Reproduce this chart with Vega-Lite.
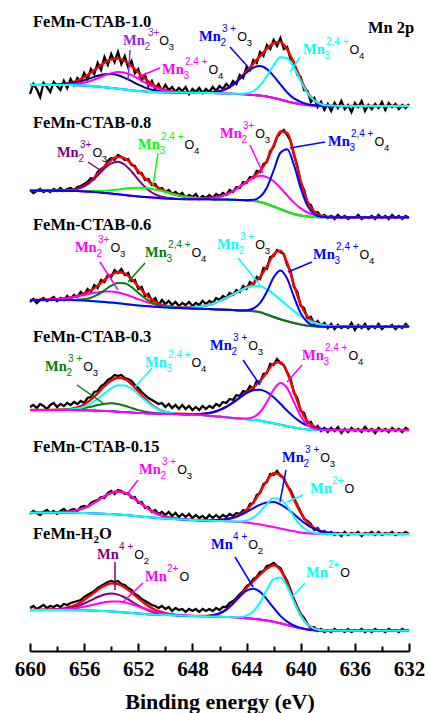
{
"$schema":"https://vega.github.io/schema/vega-lite/v6.json",
"width":379,"height":651,
"autosize":{"type":"none"},
"padding":{"left":30,"top":0,"right":20,"bottom":62},
"background":"white",
"config":{"view":{"stroke":null},"axis":{"grid":false,"domainColor":"black","tickColor":"black","labelColor":"black","titleColor":"black"}},
"resolve":{"axis":{"x":"independent"}},
"datasets":{
"fit":[
{"x":660,"f1":915,"a1":915,"b1":915,"c1":915,"d1":915,"f2":809.3,"a2":809.3,"b2":809.3,"c2":809.3,"d2":809.3,"f3":700,"a3":700,"b3":700,"c3":700,"d3":700,"f4":590,"a4":590,"b4":590,"c4":590,"d4":590,"f5":487.3,"a5":487.3,"b5":487.3,"c5":487.3,"f6":390,"a6":390,"b6":390,"c6":390,"d6":390},
{"x":658,"f1":915.4,"a1":915.3,"b1":915.1,"c1":915,"d1":915,"f2":809.4,"a2":809.4,"b2":809.3,"c2":809.3,"d2":809.3,"f3":700.8,"a3":700.8,"b3":700,"c3":700,"d3":700,"f4":590.2,"a4":590.1,"b4":590.1,"c4":590,"d4":590,"f5":487.5,"a5":487.5,"b5":487.3,"c5":487.3,"f6":390.7,"a6":390.4,"b6":390.3,"c6":390,"d6":390},
{"x":657,"f1":917.4,"a1":916.7,"b1":915.7,"c1":915,"d1":915,"f2":810.1,"a2":810,"b2":809.2,"c2":809.1,"d2":809.1,"f3":702.5,"a3":702.4,"b3":700,"c3":699.9,"d3":699.9,"f4":591.1,"a4":590.4,"b4":590.6,"c4":589.9,"d4":589.9,"f5":488.5,"a5":488.5,"b5":487.2,"c5":487.2,"f6":393.3,"a6":392,"b6":391.2,"c6":389.9,"d6":389.9},
{"x":656.5,"f1":919.4,"a1":917.9,"b1":916.3,"c1":914.8,"d1":914.8,"f2":811.4,"a2":811.2,"b2":809.1,"c2":808.9,"d2":808.9,"f3":704.1,"a3":703.6,"b3":700.2,"c3":699.7,"d3":699.7,"f4":592.6,"a4":590.9,"b4":591.5,"c4":589.8,"d4":589.8,"f5":489.8,"a5":489.8,"b5":487.1,"c5":487.1,"f6":396,"a6":393.8,"b6":392,"c6":389.8,"d6":389.8},
{"x":656,"f1":922.8,"a1":919.8,"b1":917.5,"c1":914.5,"d1":914.5,"f2":814.1,"a2":813.7,"b2":809,"c2":808.6,"d2":808.6,"f3":706.5,"a3":705.1,"b3":700.9,"c3":699.5,"d3":699.5,"f4":595.5,"a4":591.9,"b4":593.3,"c4":589.7,"d4":589.7,"f5":492.1,"a5":492.1,"b5":487,"c5":487,"f6":400.1,"a6":396.5,"b6":393.3,"c6":389.7,"d6":389.7},
{"x":655.5,"f1":927.2,"a1":921.9,"b1":919.3,"c1":914,"d1":914,"f2":819,"a2":818.2,"b2":809,"c2":808.2,"d2":808.2,"f3":709.7,"a3":706.4,"b3":702.3,"c3":699,"d3":699,"f4":600.3,"a4":593.3,"b4":596.5,"c4":589.5,"d4":589.5,"f5":495.3,"a5":495.3,"b5":486.7,"c5":486.7,"f6":405,"a6":399.7,"b6":394.8,"c6":389.5,"d6":389.5},
{"x":655,"f1":932.5,"a1":924.2,"b1":921.8,"c1":913.5,"d1":913.5,"f2":825.9,"a2":824.5,"b2":809.1,"c2":807.7,"d2":807.7,"f3":714.4,"a3":707.6,"b3":705.3,"c3":698.5,"d3":698.5,"f4":606.7,"a4":594.9,"b4":601.1,"c4":589.3,"d4":589.3,"f5":499.5,"a5":499.5,"b5":486.5,"c5":486.5,"f6":410.1,"a6":403,"b6":396.3,"c6":389.2,"d6":389.2},
{"x":654.5,"f1":937.4,"a1":925.7,"b1":924.5,"c1":912.8,"d1":912.8,"f2":833.6,"a2":831.4,"b2":809.3,"c2":807.1,"d2":807.1,"f3":720.1,"a3":708.4,"b3":709.7,"c3":698,"d3":698,"f4":613.8,"a4":596.2,"b4":606.6,"c4":589,"d4":589,"f5":503.8,"a5":503.8,"b5":486.2,"c5":486.2,"f6":414.3,"a6":405.5,"b6":397.7,"c6":388.9,"d6":388.9},
{"x":654,"f1":940.7,"a1":926,"b1":926.7,"c1":912,"d1":912,"f2":840.1,"a2":836.7,"b2":809.8,"c2":806.4,"d2":806.4,"f3":725.3,"a3":708.5,"b3":714.3,"c3":697.5,"d3":697.5,"f4":619.6,"a4":596.7,"b4":611.6,"c4":588.7,"d4":588.7,"f5":507.1,"a5":507.1,"b5":485.9,"c5":485.9,"f6":416.6,"a6":406.5,"b6":398.6,"c6":388.5,"d6":388.5},
{"x":653.5,"f1":941.5,"a1":924.8,"b1":928,"c1":911.3,"d1":911.3,"f2":843.2,"a2":838.3,"b2":810.6,"c2":805.7,"d2":805.7,"f3":727.8,"a3":707.5,"b3":717.1,"c3":696.8,"d3":696.8,"f4":622.3,"a4":595.9,"b4":614.7,"c4":588.3,"d4":588.3,"f5":508.5,"a5":508.5,"b5":485.5,"c5":485.5,"f6":415.9,"a6":405.4,"b6":398.5,"c6":388,"d6":388},
{"x":653,"f1":939,"a1":922.2,"b1":927.3,"c1":910.5,"d1":910.5,"f2":841.7,"a2":835.3,"b2":811.4,"c2":805,"d2":805,"f3":726.4,"a3":705.7,"b3":716.7,"c3":696,"d3":696,"f4":620.9,"a4":594.2,"b4":614.6,"c4":587.9,"d4":587.9,"f5":507.2,"a5":507.2,"b5":485,"c5":485,"f6":412.6,"a6":402.5,"b6":397.6,"c6":387.5,"d6":387.5},
{"x":652.5,"f1":934,"a1":918.8,"b1":924.9,"c1":909.7,"d1":909.7,"f2":836.2,"a2":828.5,"b2":811.9,"c2":804.2,"d2":804.2,"f3":721.1,"a3":703.4,"b3":713,"c3":695.3,"d3":695.3,"f4":615.8,"a4":592,"b4":611.3,"c4":587.5,"d4":587.5,"f5":503.6,"a5":503.6,"b5":484.4,"c5":484.4,"f6":407.4,"a6":398.6,"b6":395.8,"c6":387,"d6":387},
{"x":652,"f1":927.6,"a1":915.3,"b1":921.3,"c1":909,"d1":909,"f2":829,"a2":820.3,"b2":812.2,"c2":803.5,"d2":803.5,"f3":713.6,"a3":700.9,"b3":707.3,"c3":694.6,"d3":694.6,"f4":608.6,"a4":589.9,"b4":605.8,"c4":587.1,"d4":587.1,"f5":498.6,"a5":498.6,"b5":483.7,"c5":483.7,"f6":401.7,"a6":394.6,"b6":393.6,"c6":386.5,"d6":386.5},
{"x":651.5,"f1":921.3,"a1":912.4,"b1":917.4,"c1":908.5,"d1":908.5,"f2":821.9,"a2":812.9,"b2":811.9,"c2":802.9,"d2":802.9,"f3":706.2,"a3":698.5,"b3":701.7,"c3":694,"d3":694,"f4":601.2,"a4":588.3,"b4":599.7,"c4":586.8,"d4":586.8,"f5":493.4,"a5":493.4,"b5":483.1,"c5":483.1,"f6":396.3,"a6":391,"b6":391.3,"c6":386,"d6":386},
{"x":651,"f1":916,"a1":910.2,"b1":913.8,"c1":908,"d1":908,"f2":816.2,"a2":807.5,"b2":811.1,"c2":802.4,"d2":802.4,"f3":700.4,"a3":696.5,"b3":697.4,"c3":693.5,"d3":693.5,"f4":595.1,"a4":587.2,"b4":594.4,"c4":586.5,"d4":586.5,"f5":488.9,"a5":488.9,"b5":482.5,"c5":482.5,"f6":391.9,"a6":388.3,"b6":389.1,"c6":385.5,"d6":385.5},
{"x":650.5,"f1":912.3,"a1":908.9,"b1":911.2,"c1":907.8,"d1":907.8,"f2":812,"a2":804.3,"b2":809.7,"c2":802,"d2":802,"f3":696.5,"a3":694.8,"b3":694.7,"c3":693,"d3":693,"f4":590.8,"a4":586.6,"b4":590.5,"c4":586.3,"d4":586.3,"f5":485.5,"a5":485.5,"b5":482,"c5":482,"f6":388.8,"a6":386.6,"b6":387.4,"c6":385.2,"d6":385.2},
{"x":650,"f1":909.8,"a1":908,"b1":909.3,"c1":907.5,"d1":907.5,"f2":808.9,"a2":802.5,"b2":808,"c2":801.6,"d2":801.6,"f3":694.4,"a3":693.7,"b3":693.2,"c3":692.7,"d3":692.6,"f4":588.2,"a4":586.2,"b4":588.1,"c4":586.1,"d4":586.1,"f5":483.3,"a5":483.3,"b5":481.5,"c5":481.5,"f6":386.9,"a6":385.6,"b6":386.3,"c6":385,"d6":385},
{"x":649,"f1":907.8,"a1":907.5,"b1":907.7,"c1":907.4,"d1":907.4,"f2":804.5,"a2":801.1,"b2":804.4,"c2":801,"d2":801,"f3":692.6,"a3":692.3,"b3":692,"c3":692.3,"d3":692,"f4":586.2,"a4":585.8,"b4":586.1,"c4":585.9,"d4":585.8,"f5":481,"a5":481,"b5":480.7,"c5":480.7,"f6":384.9,"a6":384.6,"b6":384.8,"c6":384.5,"d6":384.5},
{"x":648,"f1":907.2,"a1":907.2,"b1":907.2,"c1":907.2,"d1":907.2,"f2":802.3,"a2":800.8,"b2":802.2,"c2":800.9,"d2":800.8,"f3":692.7,"a3":691.6,"b3":691.5,"c3":692.6,"d3":691.5,"f4":585.7,"a4":585.3,"b4":585.3,"c4":585.7,"d4":585.3,"f5":480,"a5":480,"b5":480,"c5":480,"f6":384.1,"a6":384,"b6":384.1,"c6":384,"d6":384},
{"x":647,"f1":907.3,"a1":907,"b1":907,"c1":907.3,"d1":907,"f2":801.7,"a2":800.7,"b2":801.1,"c2":801.3,"d2":800.7,"f3":694.5,"a3":691,"b3":691,"c3":694.5,"d3":691,"f4":586.6,"a4":584.6,"b4":584.6,"c4":586.6,"d4":584.6,"f5":479.7,"a5":479.5,"b5":479.7,"c5":479.5,"f6":384.1,"a6":383.7,"b6":383.7,"c6":384.1,"d6":383.7},
{"x":646.5,"f1":907.7,"a1":906.9,"b1":906.9,"c1":907.7,"d1":906.9,"f2":802.2,"a2":800.6,"b2":800.8,"c2":802,"d2":800.6,"f3":696.4,"a3":690.8,"b3":690.8,"c3":696.4,"d3":690.8,"f4":587.7,"a4":584,"b4":584,"c4":587.7,"d4":584,"f5":479.7,"a5":479.3,"b5":479.7,"c5":479.3,"f6":384.8,"a6":383.5,"b6":383.5,"c6":384.8,"d6":383.5},
{"x":646,"f1":908.8,"a1":906.7,"b1":906.7,"c1":908.8,"d1":906.7,"f2":803.4,"a2":800.5,"b2":800.6,"c2":803.3,"d2":800.5,"f3":699,"a3":690.5,"b3":690.5,"c3":699,"d3":690.5,"f4":590,"a4":583.5,"b4":583.5,"c4":590,"d4":583.5,"f5":480,"a5":479,"b5":480,"c5":479,"f6":386.7,"a6":383.3,"b6":383.3,"c6":386.7,"d6":383.3},
{"x":645.5,"f1":911.1,"a1":906.5,"b1":906.5,"c1":911.1,"d1":906.5,"f2":805.6,"a2":800.4,"b2":800.4,"c2":805.6,"d2":800.4,"f3":702.1,"a3":690.2,"b3":690.2,"c3":702.1,"d3":690.2,"f4":593.2,"a4":582.7,"b4":582.7,"c4":593.2,"d4":582.7,"f5":480.7,"a5":478.7,"b5":480.7,"c5":478.7,"f6":390.4,"a6":383,"b6":383,"c6":390.4,"d6":383},
{"x":645,"f1":915.3,"a1":906.3,"b1":906.3,"c1":915.3,"d1":906.3,"f2":809,"a2":800.2,"b2":800.2,"c2":809,"d2":800.2,"f3":705.7,"a3":689.9,"b3":689.9,"c3":705.7,"d3":689.9,"f4":597.5,"a4":582,"b4":582,"c4":597.5,"d4":582,"f5":482.3,"a5":478.4,"b5":482.2,"c5":478.5,"f6":396.6,"a6":382.7,"b6":382.7,"c6":396.5,"d6":382.8},
{"x":644.5,"f1":921.5,"a1":906,"b1":906,"c1":921.2,"d1":906.3,"f2":813.3,"a2":800,"b2":800,"c2":813.3,"d2":800,"f3":709.2,"a3":689.6,"b3":689.6,"c3":709.2,"d3":689.6,"f4":602.5,"a4":581.4,"b4":581.4,"c4":602.4,"d4":581.5,"f5":485.3,"a5":478,"b5":484.7,"c5":478.6,"f6":404.2,"a6":382.3,"b6":382.3,"c6":403.5,"d6":383},
{"x":644,"f1":928.7,"a1":905.5,"b1":905.5,"c1":927.4,"d1":906.8,"f2":818.2,"a2":799.6,"b2":799.6,"c2":818,"d2":799.8,"f3":712.7,"a3":689.3,"b3":689.3,"c3":712.2,"d3":689.8,"f4":607.5,"a4":580.8,"b4":580.8,"c4":606.9,"d4":581.4,"f5":490.1,"a5":477.4,"b5":488,"c5":479.5,"f6":412,"a6":381.8,"b6":381.8,"c6":409.4,"d6":384.4},
{"x":643.5,"f1":936.4,"a1":905,"b1":905,"c1":932.4,"d1":909,"f2":823.3,"a2":799,"b2":799,"c2":822.1,"d2":800.2,"f3":716.7,"a3":688.8,"b3":688.8,"c3":714,"d3":691.5,"f4":612.6,"a4":580.1,"b4":580.1,"c4":609.8,"d4":582.9,"f5":497.7,"a5":476.6,"b5":491.8,"c5":482.5,"f6":418.7,"a6":381.2,"b6":381.2,"c6":411.2,"d6":388.7},
{"x":643,"f1":944.1,"a1":904.5,"b1":904.5,"c1":934,"d1":914.6,"f2":829.4,"a2":798,"b2":798,"c2":824.2,"d2":803.2,"f3":723.1,"a3":687.8,"b3":687.8,"c3":713.8,"d3":697.1,"f4":619,"a4":579.3,"b4":579.3,"c4":610.3,"d4":588,"f5":508.2,"a5":475.5,"b5":495.3,"c5":488.4,"f6":425.4,"a6":380.5,"b6":380.5,"c6":408.1,"d6":397.8},
{"x":642.5,"f1":951.4,"a1":903.5,"b1":903.5,"c1":930.9,"d1":924,"f2":839.2,"a2":796,"b2":796,"c2":822.9,"d2":812.3,"f3":733.5,"a3":685.5,"b3":685.5,"c3":710.7,"d3":708.3,"f4":627.7,"a4":578.1,"b4":578.1,"c4":607.8,"d4":598,"f5":519.4,"a5":474.3,"b5":497.6,"c5":496.1,"f6":431.4,"a6":379.5,"b6":379.5,"c6":400.7,"d6":410.2},
{"x":642,"f1":956.8,"a1":902,"b1":902,"c1":923.9,"d1":934.9,"f2":854.7,"a2":793.5,"b2":793.5,"c2":818.7,"d2":829.5,"f3":745.6,"a3":683,"b3":683,"c3":705.9,"d3":722.7,"f4":636.4,"a4":576.7,"b4":576.7,"c4":602.8,"d4":610.3,"f5":526.7,"a5":473,"b5":498,"c5":501.7,"f6":434.6,"a6":378.3,"b6":378.3,"c6":392.1,"d6":420.8},
{"x":641.5,"f1":957.9,"a1":900.5,"b1":900.5,"c1":915.7,"d1":942.7,"f2":868.5,"a2":790.8,"b2":790.8,"c2":812.1,"d2":847.2,"f3":749.2,"a3":680.7,"b3":680.7,"c3":700.3,"d3":729.6,"f4":637.9,"a4":575.2,"b4":575.2,"c4":596.2,"d4":616.9,"f5":525.1,"a5":471.5,"b5":495.7,"c5":500.9,"f6":429.9,"a6":376.7,"b6":376.7,"c6":384.1,"d6":422.5},
{"x":641,"f1":950.7,"a1":898.5,"b1":898.5,"c1":907.5,"d1":941.7,"f2":867.2,"a2":788.2,"b2":788.2,"c2":804.6,"d2":850.8,"f3":737.2,"a3":678.8,"b3":678.8,"c3":694.6,"d3":721.4,"f4":627.3,"a4":573.7,"b4":573.7,"c4":589.2,"d4":611.8,"f5":514.9,"a5":470,"b5":491.4,"c5":493.5,"f6":416.8,"a6":375,"b6":375,"c6":378.4,"d6":413.4},
{"x":640.5,"f1":936.8,"a1":897,"b1":897,"c1":901.6,"d1":932.2,"f2":846.5,"a2":786,"b2":786,"c2":797.4,"d2":835.1,"f3":715.2,"a3":677,"b3":677,"c3":688.9,"d3":703.3,"f4":608.4,"a4":572.4,"b4":572.4,"c4":582.9,"d4":597.9,"f5":500.4,"a5":468.7,"b5":485.8,"c5":483.3,"f6":399.6,"a6":373.2,"b6":373.2,"c6":374.5,"d6":398.3},
{"x":640,"f1":921.1,"a1":896,"b1":896,"c1":898.1,"d1":919,"f2":818.9,"a2":784.4,"b2":784.4,"c2":791.6,"d2":811.7,"f3":695.4,"a3":675.5,"b3":675.5,"c3":684,"d3":686.9,"f4":590.3,"a4":571.3,"b4":571.3,"c4":577.8,"d4":583.8,"f5":487.1,"a5":467.6,"b5":480,"c5":474.7,"f6":384.9,"a6":371.7,"b6":371.7,"c6":372.1,"d6":384.5},
{"x":639.5,"f1":907.7,"a1":895,"b1":895,"c1":895.8,"d1":906.9,"f2":798.2,"a2":783.4,"b2":783.4,"c2":787.5,"d2":794.1,"f3":683.4,"a3":674.3,"b3":674.3,"c3":679.9,"d3":677.8,"f4":578.8,"a4":570.6,"b4":570.6,"c4":574.3,"d4":575.1,"f5":477.6,"a5":466.8,"b5":474.9,"c5":469.5,"f6":375.7,"a6":370.5,"b6":370.5,"c6":370.6,"d6":375.6},
{"x":639,"f1":899.7,"a1":894.5,"b1":894.5,"c1":894.8,"d1":899.4,"f2":788.1,"a2":782.9,"b2":782.9,"c2":785.1,"d2":785.9,"f3":678,"a3":673.7,"b3":673.7,"c3":677.2,"d3":674.5,"f4":573.4,"a4":570.2,"b4":570.2,"c4":572.2,"d4":571.4,"f5":472,"a5":466.3,"b5":471.2,"c5":467.1,"f6":371.6,"a6":369.8,"b6":369.8,"c6":369.8,"d6":371.4},
{"x":638.5,"f1":895.8,"a1":894.2,"b1":894.2,"c1":894.2,"d1":895.8,"f2":784.3,"a2":782.7,"b2":782.7,"c2":783.7,"d2":783.3,"f3":675.6,"a3":673.4,"b3":673.4,"c3":675.5,"d3":673.5,"f4":571.2,"a4":570,"b4":570,"c4":570.9,"d4":570.3,"f5":468.9,"a5":466.1,"b5":468.7,"c5":466.3,"f6":369.8,"a6":369.4,"b6":369.4,"c6":369.4,"d6":369.8},
{"x":638,"f1":894.4,"a1":894,"b1":894,"c1":894,"d1":894.4,"f2":783.2,"a2":782.7,"b2":782.7,"c2":783.1,"d2":782.8,"f3":674.4,"a3":673.3,"b3":673.3,"c3":674.4,"d3":673.3,"f4":570.4,"a4":570,"b4":570,"c4":570.4,"d4":570,"f5":467.3,"a5":466,"b5":467.3,"c5":466,"f6":369.4,"a6":369.3,"b6":369.3,"c6":369.3,"d6":369.4},
{"x":637,"f1":894,"a1":894,"b1":894,"c1":894,"d1":894,"f2":782.8,"a2":782.7,"b2":782.7,"c2":782.8,"d2":782.7,"f3":673.6,"a3":673.3,"b3":673.3,"c3":673.6,"d3":673.3,"f4":570.1,"a4":570,"b4":570,"c4":570.1,"d4":570,"f5":466.2,"a5":466,"b5":466.2,"c5":466,"f6":369.3,"a6":369.3,"b6":369.3,"c6":369.3,"d6":369.3},
{"x":636,"f1":894,"a1":894,"b1":894,"c1":894,"d1":894,"f2":782.7,"a2":782.7,"b2":782.7,"c2":782.7,"d2":782.7,"f3":673.4,"a3":673.3,"b3":673.3,"c3":673.4,"d3":673.3,"f4":570,"a4":570,"b4":570,"c4":570,"d4":570,"f5":466,"a5":466,"b5":466,"c5":466,"f6":369.3,"a6":369.3,"b6":369.3,"c6":369.3,"d6":369.3},
{"x":634,"f1":894,"a1":894,"b1":894,"c1":894,"d1":894,"f2":782.7,"a2":782.7,"b2":782.7,"c2":782.7,"d2":782.7,"f3":673.3,"a3":673.3,"b3":673.3,"c3":673.3,"d3":673.3,"f4":570,"a4":570,"b4":570,"c4":570,"d4":570,"f5":466,"a5":466,"b5":466,"c5":466,"f6":369.3,"a6":369.3,"b6":369.3,"c6":369.3,"d6":369.3},
{"x":632,"f1":894,"a1":894,"b1":894,"c1":894,"d1":894,"f2":782.7,"a2":782.7,"b2":782.7,"c2":782.7,"d2":782.7,"f3":673.3,"a3":673.3,"b3":673.3,"c3":673.3,"d3":673.3,"f4":570,"a4":570,"b4":570,"c4":570,"d4":570,"f5":466,"a5":466,"b5":466,"c5":466,"f6":369.3,"a6":369.3,"b6":369.3,"c6":369.3,"d6":369.3}
],
"exp":[
{"x":660,"e1":906,"e2":810,"e3":698,"e4":593,"e5":486,"e6":392},
{"x":659.75,"e1":916,"e2":807,"e3":701,"e4":595,"e5":489,"e6":394},
{"x":659.5,"e1":911,"e2":809,"e3":697,"e4":592,"e5":487,"e6":391},
{"x":659.25,"e1":903,"e2":811,"e3":700,"e4":596,"e5":485,"e6":393},
{"x":659,"e1":917,"e2":808,"e3":702,"e4":594,"e5":488,"e6":395},
{"x":658.75,"e1":913,"e2":810,"e3":699,"e4":591,"e5":490,"e6":392},
{"x":658.5,"e1":908,"e2":808,"e3":701,"e4":595,"e5":487,"e6":394},
{"x":658.25,"e1":918,"e2":811,"e3":703,"e4":597,"e5":489,"e6":393},
{"x":658,"e1":914,"e2":809,"e3":699,"e4":593,"e5":486,"e6":395},
{"x":657.75,"e1":910,"e2":812,"e3":702,"e4":596,"e5":489,"e6":393},
{"x":657.5,"e1":919,"e2":809,"e3":700,"e4":594,"e5":491,"e6":396},
{"x":657.25,"e1":912,"e2":811,"e3":704,"e4":597,"e5":488,"e6":395},
{"x":657,"e1":921,"e2":812,"e3":701,"e4":595,"e5":490,"e6":397},
{"x":656.75,"e1":915,"e2":810,"e3":705,"e4":598,"e5":491,"e6":398},
{"x":656.5,"e1":922,"e2":813,"e3":703,"e4":596,"e5":489,"e6":399},
{"x":656.25,"e1":918,"e2":814,"e3":708,"e4":599,"e5":493,"e6":400},
{"x":656,"e1":927,"e2":816,"e3":705,"e4":597,"e5":494,"e6":403},
{"x":655.75,"e1":921,"e2":818,"e3":711,"e4":602,"e5":493,"e6":405},
{"x":655.5,"e1":931,"e2":822,"e3":708,"e4":603,"e5":497,"e6":407},
{"x":655.25,"e1":926,"e2":821,"e3":715,"e4":608,"e5":499,"e6":409},
{"x":655,"e1":937,"e2":828,"e3":712,"e4":609,"e5":500,"e6":412},
{"x":654.75,"e1":930,"e2":831,"e3":720,"e4":614,"e5":503,"e6":414},
{"x":654.5,"e1":943,"e2":833,"e3":718,"e4":616,"e5":502,"e6":416},
{"x":654.25,"e1":935,"e2":839,"e3":725,"e4":620,"e5":507,"e6":418},
{"x":654,"e1":946,"e2":842,"e3":723,"e4":622,"e5":509,"e6":419},
{"x":653.75,"e1":938,"e2":840,"e3":730,"e4":625,"e5":506,"e6":418},
{"x":653.5,"e1":948,"e2":845,"e3":727,"e4":624,"e5":510,"e6":419},
{"x":653.25,"e1":936,"e2":843,"e3":731,"e4":625,"e5":509,"e6":416},
{"x":653,"e1":944,"e2":840,"e3":725,"e4":622,"e5":506,"e6":415},
{"x":652.75,"e1":933,"e2":841,"e3":727,"e4":621,"e5":507,"e6":412},
{"x":652.5,"e1":939,"e2":835,"e3":719,"e4":619,"e5":502,"e6":410},
{"x":652.25,"e1":927,"e2":834,"e3":720,"e4":615,"e5":503,"e6":406},
{"x":652,"e1":931,"e2":827,"e3":711,"e4":612,"e5":497,"e6":404},
{"x":651.75,"e1":920,"e2":827,"e3":713,"e4":608,"e5":498,"e6":401},
{"x":651.5,"e1":925,"e2":820,"e3":704,"e4":605,"e5":492,"e6":399},
{"x":651.25,"e1":914,"e2":821,"e3":706,"e4":602,"e5":493,"e6":397},
{"x":651,"e1":919,"e2":815,"e3":699,"e4":600,"e5":488,"e6":395},
{"x":650.75,"e1":911,"e2":816,"e3":702,"e4":598,"e5":490,"e6":394},
{"x":650.5,"e1":916,"e2":811,"e3":695,"e4":596,"e5":486,"e6":392},
{"x":650.25,"e1":909,"e2":812,"e3":700,"e4":597,"e5":488,"e6":394},
{"x":650,"e1":915,"e2":808,"e3":696,"e4":593,"e5":485,"e6":391},
{"x":649.75,"e1":910,"e2":810,"e3":699,"e4":596,"e5":488,"e6":393},
{"x":649.5,"e1":913,"e2":806,"e3":695,"e4":592,"e5":484,"e6":389},
{"x":649.25,"e1":908,"e2":808,"e3":698,"e4":595,"e5":487,"e6":392},
{"x":649,"e1":912,"e2":805,"e3":694,"e4":591,"e5":483,"e6":390},
{"x":648.75,"e1":909,"e2":807,"e3":697,"e4":595,"e5":486,"e6":391},
{"x":648.5,"e1":913,"e2":802,"e3":695,"e4":591,"e5":483,"e6":388},
{"x":648.25,"e1":906,"e2":805,"e3":698,"e4":594,"e5":486,"e6":391},
{"x":648,"e1":911,"e2":803,"e3":694,"e4":590,"e5":482,"e6":389},
{"x":647.75,"e1":908,"e2":806,"e3":697,"e4":593,"e5":485,"e6":391},
{"x":647.5,"e1":912,"e2":801,"e3":695,"e4":590,"e5":482,"e6":388},
{"x":647.25,"e1":907,"e2":804,"e3":699,"e4":594,"e5":484,"e6":391},
{"x":647,"e1":911,"e2":802,"e3":696,"e4":591,"e5":481,"e6":389},
{"x":646.75,"e1":908,"e2":805,"e3":699,"e4":594,"e5":485,"e6":391},
{"x":646.5,"e1":913,"e2":802,"e3":697,"e4":592,"e5":482,"e6":389},
{"x":646.25,"e1":909,"e2":806,"e3":702,"e4":596,"e5":485,"e6":392},
{"x":646,"e1":914,"e2":804,"e3":700,"e4":594,"e5":482,"e6":390},
{"x":645.75,"e1":911,"e2":807,"e3":704,"e4":598,"e5":485,"e6":393},
{"x":645.5,"e1":916,"e2":805,"e3":702,"e4":597,"e5":483,"e6":393},
{"x":645.25,"e1":913,"e2":810,"e3":707,"e4":601,"e5":486,"e6":397},
{"x":645,"e1":919,"e2":808,"e3":705,"e4":600,"e5":484,"e6":399},
{"x":644.75,"e1":916,"e2":813,"e3":710,"e4":605,"e5":487,"e6":402},
{"x":644.5,"e1":925,"e2":812,"e3":708,"e4":604,"e5":486,"e6":406},
{"x":644.25,"e1":922,"e2":818,"e3":714,"e4":609,"e5":490,"e6":409},
{"x":644,"e1":933,"e2":817,"e3":711,"e4":608,"e5":489,"e6":414},
{"x":643.75,"e1":930,"e2":823,"e3":718,"e4":614,"e5":496,"e6":416},
{"x":643.5,"e1":940,"e2":822,"e3":715,"e4":611,"e5":497,"e6":421},
{"x":643.25,"e1":937,"e2":829,"e3":723,"e4":619,"e5":505,"e6":423},
{"x":643,"e1":948,"e2":828,"e3":721,"e4":618,"e5":507,"e6":428},
{"x":642.75,"e1":944,"e2":836,"e3":732,"e4":626,"e5":516,"e6":429},
{"x":642.5,"e1":955,"e2":838,"e3":731,"e4":627,"e5":518,"e6":434},
{"x":642.25,"e1":951,"e2":849,"e3":743,"e4":636,"e5":526,"e6":435},
{"x":642,"e1":960,"e2":853,"e3":744,"e4":635,"e5":525,"e6":437},
{"x":641.75,"e1":954,"e2":863,"e3":750,"e4":641,"e5":529,"e6":434},
{"x":641.5,"e1":962,"e2":867,"e3":748,"e4":637,"e5":524,"e6":432},
{"x":641.25,"e1":951,"e2":870,"e3":746,"e4":635,"e5":522,"e6":425},
{"x":641,"e1":953,"e2":865,"e3":735,"e4":628,"e5":514,"e6":419},
{"x":640.75,"e1":941,"e2":859,"e3":729,"e4":621,"e5":510,"e6":410},
{"x":640.5,"e1":938,"e2":845,"e3":713,"e4":607,"e5":502,"e6":401},
{"x":640.25,"e1":925,"e2":834,"e3":708,"e4":602,"e5":495,"e6":393},
{"x":640,"e1":923,"e2":817,"e3":694,"e4":589,"e5":488,"e6":386},
{"x":639.75,"e1":910,"e2":810,"e3":692,"e4":587,"e5":481,"e6":382},
{"x":639.5,"e1":909,"e2":797,"e3":681,"e4":577,"e5":479,"e6":376},
{"x":639.25,"e1":898,"e2":795,"e3":683,"e4":578,"e5":476,"e6":372},
{"x":639,"e1":902,"e2":787,"e3":676,"e4":571,"e5":470,"e6":373},
{"x":638.75,"e1":893,"e2":788,"e3":679,"e4":574,"e5":472,"e6":369},
{"x":638.5,"e1":898,"e2":783,"e3":674,"e4":569,"e5":467,"e6":371},
{"x":638.25,"e1":890,"e2":785,"e3":677,"e4":572,"e5":469,"e6":368},
{"x":638,"e1":896,"e2":782,"e3":672,"e4":568,"e5":466,"e6":370},
{"x":637.75,"e1":889,"e2":784,"e3":676,"e4":572,"e5":468,"e6":368},
{"x":637.5,"e1":897,"e2":781,"e3":671,"e4":569,"e5":465,"e6":371},
{"x":637.25,"e1":892,"e2":785,"e3":675,"e4":573,"e5":467,"e6":369},
{"x":637,"e1":899,"e2":782,"e3":672,"e4":567,"e5":464,"e6":370},
{"x":636.75,"e1":891,"e2":784,"e3":674,"e4":571,"e5":468,"e6":368},
{"x":636.5,"e1":895,"e2":781,"e3":672,"e4":568,"e5":465,"e6":371},
{"x":636.25,"e1":888,"e2":783,"e3":677,"e4":572,"e5":467,"e6":368},
{"x":636,"e1":897,"e2":782,"e3":670,"e4":569,"e5":466,"e6":370},
{"x":635.75,"e1":893,"e2":785,"e3":675,"e4":571,"e5":468,"e6":369},
{"x":635.5,"e1":899,"e2":781,"e3":672,"e4":568,"e5":464,"e6":371},
{"x":635.25,"e1":889,"e2":783,"e3":676,"e4":573,"e5":467,"e6":368},
{"x":635,"e1":895,"e2":782,"e3":671,"e4":569,"e5":466,"e6":370},
{"x":634.75,"e1":891,"e2":784,"e3":674,"e4":571,"e5":468,"e6":368},
{"x":634.5,"e1":896,"e2":781,"e3":672,"e4":567,"e5":465,"e6":371},
{"x":634.25,"e1":892,"e2":785,"e3":676,"e4":572,"e5":468,"e6":369},
{"x":634,"e1":898,"e2":782,"e3":671,"e4":569,"e5":465,"e6":370},
{"x":633.75,"e1":890,"e2":784,"e3":674,"e4":571,"e5":467,"e6":368},
{"x":633.5,"e1":897,"e2":781,"e3":673,"e4":568,"e5":466,"e6":371},
{"x":633.25,"e1":893,"e2":785,"e3":675,"e4":572,"e5":468,"e6":369},
{"x":633,"e1":896,"e2":782,"e3":671,"e4":569,"e5":465,"e6":370},
{"x":632.75,"e1":891,"e2":784,"e3":674,"e4":571,"e5":467,"e6":368},
{"x":632.5,"e1":895,"e2":781,"e3":672,"e4":568,"e5":466,"e6":371},
{"x":632.25,"e1":892,"e2":784,"e3":676,"e4":572,"e5":468,"e6":369},
{"x":632,"e1":896,"e2":782,"e3":673,"e4":570,"e5":466,"e6":370}
],
"txt":[
{"r":"name","k":"n","t":"FeMn-CTAB-1.0","x":659.78,"y":978.5},
{"r":"name","k":"n","t":"FeMn-CTAB-0.8","x":659.78,"y":877},
{"r":"name","k":"n","t":"FeMn-CTAB-0.6","x":659.78,"y":775.5},
{"r":"name","k":"n","t":"FeMn-CTAB-0.3","x":659.78,"y":663.5},
{"r":"name","k":"n","t":"FeMn-CTAB-0.15","x":659.78,"y":553},
{"r":"name","k":"n","t":"FeMn-H","x":659.78,"y":466},
{"r":"namesub","k":"n","t":"2","x":655.31,"y":460},
{"r":"name","k":"n","t":"O","x":654.9,"y":466},
{"r":"name","k":"n","t":"Mn 2p","x":635.03,"y":972},
{"r":"mn","k":"a1v","t":"Mn","x":653.13,"y":959},{"r":"sub","k":"a1v","t":"2","x":651.54,"y":953},{"r":"sup","k":"a1v","t":"3+","x":651.28,"y":967},{"r":"o","k":"a1v","t":"O","x":650.45,"y":959},{"r":"osub","k":"a1v","t":"3","x":649.75,"y":953},
{"r":"mn","k":"b1","t":"Mn","x":650.25,"y":930},{"r":"sub","k":"b1","t":"3","x":648.66,"y":924},{"r":"sup","k":"b1","t":"2,4 +","x":648.55,"y":938},{"r":"o","k":"b1","t":"O","x":646.81,"y":930},{"r":"osub","k":"b1","t":"4","x":646.11,"y":924},
{"r":"mn","k":"c1","t":"Mn","x":647.51,"y":963},{"r":"sub","k":"c1","t":"2","x":645.93,"y":957},{"r":"sup","k":"c1","t":"3 +","x":645.82,"y":971},{"r":"o","k":"c1","t":"O","x":644.69,"y":963},{"r":"osub","k":"c1","t":"3","x":643.99,"y":957},
{"r":"mn","k":"d1","t":"Mn","x":639.83,"y":950},{"r":"sub","k":"d1","t":"3","x":638.24,"y":944},{"r":"sup","k":"d1","t":"2,4 +","x":638.13,"y":958},{"r":"o","k":"d1","t":"O","x":636.4,"y":950},{"r":"osub","k":"d1","t":"4","x":635.69,"y":944},
{"r":"mn","k":"a2","t":"Mn","x":658.01,"y":847},{"r":"sub","k":"a2","t":"2","x":656.42,"y":841},{"r":"sup","k":"a2","t":"3+","x":656.31,"y":855},{"r":"o","k":"a2","t":"O","x":655.39,"y":847},{"r":"osub","k":"a2","t":"3","x":654.69,"y":841},
{"r":"mn","k":"b2","t":"Mn","x":652.02,"y":855},{"r":"sub","k":"b2","t":"3","x":650.43,"y":849},{"r":"sup","k":"b2","t":"2,4 +","x":650.32,"y":863},{"r":"o","k":"b2","t":"O","x":648.59,"y":855},{"r":"osub","k":"b2","t":"4","x":647.88,"y":849},
{"r":"mn","k":"c2","t":"Mn","x":645.96,"y":866},{"r":"sub","k":"c2","t":"2","x":644.37,"y":860},{"r":"sup","k":"c2","t":"3+","x":644.26,"y":874},{"r":"o","k":"c2","t":"O","x":643.35,"y":866},{"r":"osub","k":"c2","t":"3","x":642.65,"y":860},
{"r":"mn","k":"d2","t":"Mn","x":637.98,"y":858},{"r":"sub","k":"d2","t":"3","x":636.4,"y":852},{"r":"sup","k":"d2","t":"2,4 +","x":636.29,"y":866},{"r":"o","k":"d2","t":"O","x":634.55,"y":858},{"r":"osub","k":"d2","t":"4","x":633.85,"y":852},
{"r":"mn","k":"a3","t":"Mn","x":656.68,"y":752},{"r":"sub","k":"a3","t":"2","x":655.09,"y":746},{"r":"sup","k":"a3","t":"3+","x":654.98,"y":760},{"r":"o","k":"a3","t":"O","x":654.06,"y":752},{"r":"osub","k":"a3","t":"3","x":653.36,"y":746},
{"r":"mn","k":"b3","t":"Mn","x":651.5,"y":747},{"r":"sub","k":"b3","t":"3","x":649.92,"y":741},{"r":"sup","k":"b3","t":"2,4 +","x":649.8,"y":755},{"r":"o","k":"b3","t":"O","x":648.07,"y":747},{"r":"osub","k":"b3","t":"4","x":647.37,"y":741},
{"r":"mn","k":"c3","t":"Mn","x":646.18,"y":755},{"r":"sub","k":"c3","t":"2","x":644.6,"y":749},{"r":"sup","k":"c3","t":"3 +","x":644.49,"y":763},{"r":"o","k":"c3","t":"O","x":643.36,"y":755},{"r":"osub","k":"c3","t":"3","x":642.66,"y":749},
{"r":"mn","k":"d3","t":"Mn","x":639.09,"y":745},{"r":"sub","k":"d3","t":"3","x":637.5,"y":739},{"r":"sup","k":"d3","t":"2,4 +","x":637.39,"y":753},{"r":"o","k":"d3","t":"O","x":635.66,"y":745},{"r":"osub","k":"d3","t":"4","x":634.95,"y":739},
{"r":"mn","k":"a4","t":"Mn","x":658.89,"y":633},{"r":"sub","k":"a4","t":"2","x":657.3,"y":627},{"r":"sup","k":"a4","t":"3 +","x":657.19,"y":641},{"r":"o","k":"a4","t":"O","x":656.07,"y":633},{"r":"osub","k":"a4","t":"3","x":655.37,"y":627},
{"r":"mn","k":"b4","t":"Mn","x":651.5,"y":637},{"r":"sub","k":"b4","t":"3","x":649.92,"y":631},{"r":"sup","k":"b4","t":"2,4 +","x":649.8,"y":645},{"r":"o","k":"b4","t":"O","x":648.07,"y":637},{"r":"osub","k":"b4","t":"4","x":647.37,"y":631},
{"r":"mn","k":"c4","t":"Mn","x":646.7,"y":654},{"r":"sub","k":"c4","t":"2","x":645.11,"y":648},{"r":"sup","k":"c4","t":"3 +","x":645.0,"y":662},{"r":"o","k":"c4","t":"O","x":643.88,"y":654},{"r":"osub","k":"c4","t":"3","x":643.18,"y":648},
{"r":"mn","k":"d4","t":"Mn","x":639.9,"y":644},{"r":"sub","k":"d4","t":"3","x":638.32,"y":638},{"r":"sup","k":"d4","t":"2,4 +","x":638.21,"y":652},{"r":"o","k":"d4","t":"O","x":636.47,"y":644},{"r":"osub","k":"d4","t":"4","x":635.77,"y":638},
{"r":"mn","k":"a5","t":"Mn","x":651.95,"y":530},{"r":"sub","k":"a5","t":"2","x":650.36,"y":524},{"r":"sup","k":"a5","t":"3 +","x":650.25,"y":538},{"r":"o","k":"a5","t":"O","x":649.12,"y":530},{"r":"osub","k":"a5","t":"3","x":648.42,"y":524},
{"r":"mn","k":"b5","t":"Mn","x":641.38,"y":542},{"r":"sub","k":"b5","t":"2","x":639.79,"y":536},{"r":"sup","k":"b5","t":"3 +","x":639.68,"y":550},{"r":"o","k":"b5","t":"O","x":638.56,"y":542},{"r":"osub","k":"b5","t":"3","x":637.86,"y":536},
{"r":"mn","k":"c5","t":"Mn","x":639.31,"y":511},{"r":"sup","k":"c5","t":"2+","x":637.69,"y":519},{"r":"o","k":"c5","t":"O","x":636.77,"y":511},
{"r":"mn","k":"a6","t":"Mn","x":655.05,"y":445},{"r":"sup","k":"a6","t":"4 +","x":653.42,"y":453},{"r":"o","k":"a6","t":"O","x":652.3,"y":445},{"r":"osub","k":"a6","t":"2","x":651.6,"y":439},
{"r":"mn","k":"b6","t":"Mn","x":651.5,"y":423},{"r":"sup","k":"b6","t":"2+","x":649.88,"y":431},{"r":"o","k":"b6","t":"O","x":648.96,"y":423},
{"r":"mn","k":"c6","t":"Mn","x":646.63,"y":455},{"r":"sup","k":"c6","t":"4 +","x":645.0,"y":463},{"r":"o","k":"c6","t":"O","x":643.88,"y":455},{"r":"osub","k":"c6","t":"2","x":643.18,"y":449},
{"r":"mn","k":"d6","t":"Mn","x":639.61,"y":427},{"r":"sup","k":"d6","t":"2+","x":637.98,"y":435},{"r":"o","k":"d6","t":"O","x":637.07,"y":427}
],
"arr":[
{"k":"a1v","x":652.61,"y":950,"x2":652.76,"y2":920},
{"k":"b1","x":650.4,"y":932,"x2":652.02,"y2":923},
{"k":"c1","x":645.22,"y":953,"x2":643.89,"y2":933},
{"k":"d1","x":640.05,"y":943,"x2":640.79,"y2":928},
{"k":"a2","x":655.71,"y":838,"x2":654.61,"y2":828},
{"k":"b2","x":650.54,"y":847,"x2":650.91,"y2":815},
{"k":"c2","x":643.75,"y":855,"x2":642.79,"y2":827},
{"k":"d2","x":638.2,"y":858,"x2":640.79,"y2":852},
{"k":"a3","x":654.83,"y":738,"x2":653.5,"y2":710},
{"k":"b3","x":651.5,"y":737,"x2":652.76,"y2":718},
{"k":"c3","x":644.63,"y":742,"x2":643.01,"y2":715},
{"k":"d3","x":639.17,"y":738,"x2":640.94,"y2":728},
{"k":"a4","x":656.53,"y":615,"x2":654.61,"y2":597},
{"k":"b4","x":650.99,"y":632,"x2":652.24,"y2":613},
{"k":"c4","x":644.26,"y":640,"x2":643.01,"y2":615},
{"k":"d4","x":639.9,"y":635,"x2":641.01,"y2":618},
{"k":"a5","x":652.02,"y":520,"x2":652.76,"y2":507},
{"k":"b5","x":641.09,"y":530,"x2":641.53,"y2":498},
{"k":"c5","x":639.83,"y":505,"x2":641.01,"y2":498},
{"k":"a6","x":653.72,"y":438,"x2":653.72,"y2":410},
{"k":"b6","x":651.65,"y":417,"x2":653.13,"y2":398},
{"k":"c6","x":644.85,"y":443,"x2":643.52,"y2":413},
{"k":"d6","x":639.68,"y":417,"x2":640.64,"y2":403}
]
},
"layer":[
{"data":{"name":"exp"},
 "transform":[{"fold":["e1","e2","e3","e4","e5","e6"],"as":["k","v"]}],
 "mark":{"type":"line","color":"black","strokeWidth":2.3},
 "encoding":{
  "x":{"field":"x","type":"quantitative","scale":{"domain":[632,660],"reverse":true,"nice":false,"zero":false},
       "axis":{"orient":"bottom","values":[658,654,650,646,642,638,634],"tickSize":-5,"tickWidth":2,"labels":false,"domain":false,"title":null}},
  "y":{"field":"v","type":"quantitative","scale":{"domain":[349,1000],"nice":false,"zero":false},"axis":null},
  "detail":{"field":"k"}}},
{"data":{"name":"fit"},
 "transform":[{"fold":["f1","f2","f3","f4","f5","f6"],"as":["k","v"]}],
 "mark":{"type":"line","color":"#ff0000","strokeWidth":2.4,"interpolate":"monotone"},
 "encoding":{
  "x":{"field":"x","type":"quantitative",
       "axis":{"orient":"bottom","values":[660,656,652,648,644,640,636,632],"tickSize":-8,"tickWidth":2,"domainWidth":2,"labelPadding":15,"labelFont":"Liberation Serif","labelFontWeight":"bold","labelFontSize":21,"title":"Binding energy (eV)","titleFont":"Liberation Serif","titleFontWeight":"bold","titleFontSize":22,"titlePadding":12,"labelFlush":false}},
  "y":{"field":"v","type":"quantitative","axis":null},
  "detail":{"field":"k"}}},
{"data":{"name":"fit"},
 "transform":[{"fold":["a1","b1","c1","d1","a2","b2","c2","d2","a3","b3","c3","d3","a4","b4","c4","d4","a5","b5","c5","a6","b6","c6","d6"],"as":["k","v"]}],
 "mark":{"type":"line","strokeWidth":2,"interpolate":"monotone"},
 "encoding":{
  "x":{"field":"x","type":"quantitative","axis":null},
  "y":{"field":"v","type":"quantitative","axis":null},
  "color":{"field":"k","type":"nominal","legend":null,"scale":{"domain":["a1","b1","c1","d1","a1v","a2","b2","c2","d2","a3","b3","c3","d3","a4","b4","c4","d4","a5","b5","c5","a6","b6","c6","d6"],"range":["#000080","#ff00ff","#0000ff","#00ffff","#8a2be2","#800080","#00ff00","#ff00ff","#0000ff","#ff00ff","#008000","#00ffff","#0000ff","#008000","#00ffff","#0000ff","#ff00ff","#ff00ff","#0000ff","#00ffff","#800080","#ff00ff","#0000ff","#00ffff"]}}}},
{"data":{"name":"arr"},
 "mark":{"type":"rule","strokeWidth":1.5},
 "encoding":{
  "x":{"field":"x","type":"quantitative","axis":null},
  "y":{"field":"y","type":"quantitative","axis":null},
  "x2":{"field":"x2"},"y2":{"field":"y2"},
  "color":{"field":"k","type":"nominal","legend":null}}},
{"data":{"name":"txt"},"transform":[{"filter":"datum.r==='mn'"}],
 "mark":{"type":"text","font":"Liberation Serif","fontWeight":"bold","fontSize":14.5,"align":"left","baseline":"middle"},
 "encoding":{"x":{"field":"x","type":"quantitative","axis":null},"y":{"field":"y","type":"quantitative","axis":null},"text":{"field":"t"},"color":{"field":"k","type":"nominal","legend":null}}},
{"data":{"name":"txt"},"transform":[{"filter":"datum.r==='sub' || datum.r==='sup'"}],
 "mark":{"type":"text","font":"Liberation Sans","fontSize":10,"align":"left","baseline":"middle"},
 "encoding":{"x":{"field":"x","type":"quantitative","axis":null},"y":{"field":"y","type":"quantitative","axis":null},"text":{"field":"t"},"color":{"field":"k","type":"nominal","legend":null}}},
{"data":{"name":"txt"},"transform":[{"filter":"datum.r==='o'"}],
 "mark":{"type":"text","font":"Liberation Sans","fontSize":12.5,"align":"left","baseline":"middle","color":"black"},
 "encoding":{"x":{"field":"x","type":"quantitative","axis":null},"y":{"field":"y","type":"quantitative","axis":null},"text":{"field":"t"}}},
{"data":{"name":"txt"},"transform":[{"filter":"datum.r==='osub'"}],
 "mark":{"type":"text","font":"Liberation Sans","fontSize":9.5,"align":"left","baseline":"middle","color":"black"},
 "encoding":{"x":{"field":"x","type":"quantitative","axis":null},"y":{"field":"y","type":"quantitative","axis":null},"text":{"field":"t"}}},
{"data":{"name":"txt"},"transform":[{"filter":"datum.r==='name'"}],
 "mark":{"type":"text","font":"Liberation Serif","fontWeight":"bold","fontSize":16.5,"align":"left","baseline":"middle","color":"black"},
 "encoding":{"x":{"field":"x","type":"quantitative","axis":null},"y":{"field":"y","type":"quantitative","axis":null},"text":{"field":"t"}}},
{"data":{"name":"txt"},"transform":[{"filter":"datum.r==='namesub'"}],
 "mark":{"type":"text","font":"Liberation Serif","fontWeight":"bold","fontSize":11,"align":"left","baseline":"middle","color":"black"},
 "encoding":{"x":{"field":"x","type":"quantitative","axis":null},"y":{"field":"y","type":"quantitative","axis":null},"text":{"field":"t"}}}
]
}
